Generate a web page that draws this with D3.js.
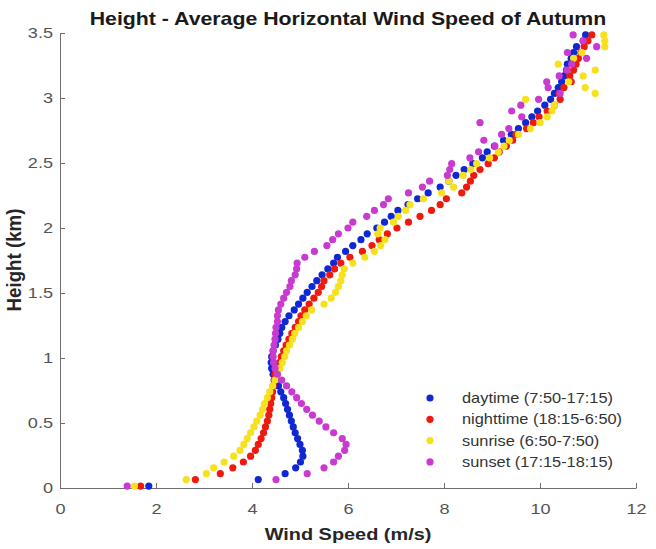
<!DOCTYPE html>
<html>
<head>
<meta charset="utf-8">
<script src="https://cdn.jsdelivr.net/npm/d3@7"></script>
<style>
  body { margin: 0; background: #fff; }
  svg { font-family: "Liberation Sans", Arial, Helvetica, sans-serif; }
</style>
</head>
<body>
<div id="chart"></div>
<script>
// chart data
const heights = [0.015, 0.065, 0.11, 0.155, 0.2, 0.245, 0.29, 0.335, 0.38, 0.425,
  0.47, 0.515, 0.56, 0.605, 0.65, 0.695, 0.74, 0.785, 0.83, 0.875,
  0.92, 0.965, 1.01, 1.055, 1.1, 1.145, 1.19, 1.235, 1.28, 1.325,
  1.37, 1.415, 1.46, 1.505, 1.55, 1.595, 1.64, 1.685, 1.73, 1.775,
  1.82, 1.865, 1.91, 1.955, 2.0, 2.045, 2.09, 2.135, 2.18, 2.225,
  2.27, 2.315, 2.36, 2.405, 2.45, 2.495, 2.54, 2.585, 2.63, 2.675,
  2.72, 2.765, 2.81, 2.855, 2.9, 2.945, 2.99, 3.035, 3.08, 3.125,
  3.17, 3.215, 3.26, 3.305, 3.35, 3.395, 3.44, 3.485];

const daytime = [1.85, 4.13, 4.69, 4.91, 5.01, 5.06, 5.05, 5.0, 4.95, 4.9,
  4.86, 4.82, 4.78, 4.74, 4.70, 4.66, 4.60, 4.55, 4.49, 4.44,
  4.41, 4.40, 4.41, 4.44, 4.49, 4.54, 4.58, 4.62, 4.69, 4.77,
  4.88, 4.97, 5.06, 5.15, 5.25, 5.35, 5.46, 5.58, 5.70, 5.78,
  5.95, 6.1, 6.27, 6.4, 6.6, 6.76, 6.9, 7.04, 7.25, 7.45,
  7.67, 7.92, 8.1, 8.25, 8.42, 8.6, 8.8, 8.9, 9.05, 9.24,
  9.4, 9.55, 9.7, 9.83, 9.95, 10.1, 10.22, 10.3, 10.38, 10.45,
  10.5, 10.55, 10.57, 10.65, 10.7, 10.76, 10.9, 10.95];

const nighttime = [1.68, 2.82, 3.34, 3.6, 3.82, 3.97, 4.07, 4.13, 4.19, 4.24,
  4.28, 4.32, 4.35, 4.37, 4.39, 4.41, 4.43, 4.44, 4.46, 4.48,
  4.53, 4.57, 4.61, 4.66, 4.71, 4.77, 4.83, 4.9, 4.97, 5.02,
  5.1, 5.19, 5.29, 5.38, 5.45, 5.5, 5.62, 5.72, 5.85, 6.04,
  6.3, 6.5, 6.65, 6.82, 7.02, 7.26, 7.5, 7.74, 7.92, 8.05,
  8.37, 8.47, 8.55, 8.62, 8.75, 8.92, 9.05, 9.15, 9.3, 9.43,
  9.5, 9.72, 9.86, 9.98, 10.15, 10.3, 10.42, 10.4, 10.5, 10.65,
  10.62, 10.7, 10.75, 10.8, 10.85, 10.92, 11.0, 11.08];

const sunrise = [1.55, 2.63, 3.05, 3.2, 3.42, 3.62, 3.75, 3.83, 3.9, 3.97,
  4.04, 4.1, 4.17, 4.22, 4.26, 4.32, 4.37, 4.43, 4.48, 4.53,
  4.58, 4.63, 4.68, 4.72, 4.78, 4.84, 4.89, 4.97, 5.05, 5.13,
  5.24, 5.5, 5.65, 5.74, 5.8, 5.85, 5.88, 5.92, 6.1, 6.35,
  6.55, 6.68, 6.77, 6.62, 6.67, 6.95, 7.05, 7.2, 7.29, 7.57,
  7.95, 8.2, 8.1, 8.4, 8.56, 8.68, 8.95, 9.13, 9.25, 9.36,
  9.55, 9.8, 10.0, 10.15, 10.25, 10.3, 9.7, 11.15, 10.94, 10.6,
  10.9, 11.15, 10.38, 10.7, 10.87, 11.35, 11.35, 11.33];

const sunset = [1.4, 4.5, 5.15, 5.5, 5.7, 5.8, 5.93, 5.96, 5.88, 5.7,
  5.54, 5.4, 5.26, 5.14, 5.03, 4.93, 4.83, 4.72, 4.62, 4.53,
  4.48, 4.45, 4.44, 4.44, 4.46, 4.48, 4.49, 4.5, 4.53, 4.53,
  4.55, 4.6, 4.66, 4.72, 4.79, 4.82, 4.9, 4.93, 4.94, 5.1,
  5.3, 5.56, 5.68, 5.8, 6.0, 6.1, 6.39, 6.55, 6.74, 6.84,
  7.26, 7.55, 7.7, 8.07, 8.12, 8.16, 8.54, 8.72, 9.06, 8.83,
  9.2, 9.35, 8.75, 9.62, 9.41, 9.6, 9.97, 10.42, 10.17, 10.14,
  10.4, 10.56, 10.66, 10.97, 10.57, 11.18, 10.9, 10.69];

const seriesNames = ['daytime (7:50-17:15)', 'nighttime (18:15-6:50)', 'sunrise (6:50-7:50)', 'sunset (17:15-18:15)'];
const seriesValues = [daytime, nighttime, sunrise, sunset];
const seriesColors = ['#1028d2', '#ee1a0e', '#f7e01c', '#c83ad0'];

const xTicks = [0, 2, 4, 6, 8, 10, 12];
const yTicks = [0, 0.5, 1, 1.5, 2, 2.5, 3, 3.5];

const width = 656;
const height = 549;
const stretch = 1.17; // the picture's text looks a bit wide

const svg = d3.select('#chart')
  .append('svg')
  .attr('width', width)
  .attr('height', height);

const x = d3.scaleLinear().domain([0, 12]).range([60, 636]);
const y = d3.scaleLinear().domain([0, 3.5]).range([488, 33]);
const fmt = d3.format('~g');

// axes (MATLAB style: ticks inside, no box)
const xAxis = svg.append('g')
  .attr('transform', `translate(0,${y(0)})`)
  .call(d3.axisBottom(x).tickValues(xTicks).tickFormat(fmt)
    .tickSizeInner(-5).tickSizeOuter(0).tickPadding(15));
const yAxis = svg.append('g')
  .attr('transform', `translate(${x(0)},0)`)
  .call(d3.axisLeft(y).tickValues(yTicks).tickFormat(fmt)
    .tickSizeInner(-5).tickSizeOuter(0).tickPadding(6));

[xAxis, yAxis].forEach(a => {
  a.selectAll('path, line').attr('stroke', '#6e6e6e');
  a.selectAll('text')
    .attr('fill', '#555')
    .attr('transform', `scale(${stretch},1)`)
    .style('font-size', '15.5px');
});

// points: drawn in legend order so the later series sit on top
seriesValues.forEach((vals, i) => {
  svg.append('g')
    .selectAll('circle')
    .data(vals)
    .enter().append('circle')
    .attr('cx', d => x(d))
    .attr('cy', (d, j) => y(heights[j]))
    .attr('r', 3.6)
    .attr('fill', seriesColors[i]);
});

// title
svg.append('text')
  .attr('transform', `translate(348,25) scale(${stretch},1)`)
  .attr('text-anchor', 'middle')
  .attr('font-weight', 'bold')
  .attr('font-size', 18.2)
  .attr('fill', '#1a1a1a')
  .text('Height - Average Horizontal Wind Speed of Autumn');

// axis labels
svg.append('text')
  .attr('transform', `translate(348,540) scale(${stretch},1)`)
  .attr('text-anchor', 'middle')
  .attr('font-weight', 'bold')
  .attr('font-size', 17)
  .attr('fill', '#262626')
  .text('Wind Speed (m/s)');

svg.append('text')
  .attr('transform', `translate(21,260) rotate(-90) scale(1.1,${stretch})`)
  .attr('text-anchor', 'middle')
  .attr('font-weight', 'bold')
  .attr('font-size', 17)
  .attr('fill', '#262626')
  .text('Height (km)');

// legend
const legend = svg.append('g').attr('transform', 'translate(430,398)');
seriesNames.forEach((name, i) => {
  const row = legend.append('g').attr('transform', `translate(0,${i * 21.3})`);
  row.append('circle').attr('r', 3.6).attr('fill', seriesColors[i]);
  row.append('text')
    .attr('transform', `translate(32,0) scale(${stretch},1)`)
    .attr('dy', '0.35em')
    .attr('font-size', 14)
    .attr('fill', '#333')
    .text(name);
});
</script>
</body>
</html>
